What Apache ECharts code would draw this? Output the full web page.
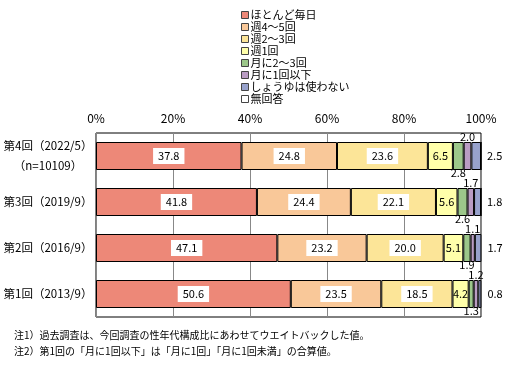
<!DOCTYPE html>
<html><head><meta charset="utf-8">
<script src="https://cdn.jsdelivr.net/npm/echarts@6/dist/echarts.min.js"></script>
<style>html,body{margin:0;padding:0;background:#fff}#c{width:517px;height:380px}</style>
</head><body><div id="c"></div>
<script>
const categories = ['第4回（2022/5）\n（n=10109）', '第3回（2019/9）', '第2回（2016/9）', '第1回（2013/9）'];
const seriesNames = ['ほとんど毎日', '週4～5回', '週2～3回', '週1回', '月に2～3回', '月に1回以下', 'しょうゆは使わない', '無回答'];
const everyday = [37.8, 41.8, 47.1, 50.6];
const w4to5 = [24.8, 24.4, 23.2, 23.5];
const w2to3 = [23.6, 22.1, 20.0, 18.5];
const w1 = [6.5, 5.6, 5.1, 4.2];
const m2to3 = [2.8, 2.6, 1.9, 1.3];
const m1less = [2.0, 1.7, 1.1, 1.2];
const noUse = [2.5, 1.8, 1.7, 0.8];
const noAnswer = [0, 0, 0, 0];
const tickLabels = ['0%', '20%', '40%', '60%', '80%', '100%'];
const notes = ['注1）過去調査は、今回調査の性年代構成比にあわせてウエイトバックした値。', '注2）第1回の「月に1回以下」は「月に1回」「月に1回未満」の合算値。'];

const colors = ['#ED8878', '#F9C899', '#FCE598', '#FFFFAA', '#9CC78A', '#BA9CC3', '#98A2CC', '#FFFFFF'];
const values = [everyday, w4to5, w2to3, w1, m2to3, m1less, noUse, noAnswer];
const FONT = '"Noto Sans CJK JP", sans-serif';
const fmt = p => p.value.toFixed(1);

function labelFor(i) {
  const base = {show: true, formatter: fmt, color: '#000', fontSize: 11, fontFamily: FONT};
  if (i <= 2) return Object.assign(base, {position: 'inside', backgroundColor: '#fff', padding: [3, 5, 2, 5]});
  if (i === 3) return Object.assign(base, {position: 'inside'});
  if (i === 4) return Object.assign(base, {position: 'bottom', distance: 0, offset: [0, -3]});
  if (i === 5) return Object.assign(base, {position: 'top', distance: 1, offset: [0, 1]});
  if (i === 6) return Object.assign(base, {position: 'right', distance: 6});
  return {show: false};
}

const series = seriesNames.map((n, i) => ({
  name: n, type: 'bar', stack: 'all', barWidth: 28,
  data: values[i],
  itemStyle: {color: colors[i], borderColor: '#000', borderWidth: 1},
  label: labelFor(i),
  emphasis: {disabled: true}
}));

const chart = echarts.init(document.getElementById('c'));
chart.setOption({
  animation: false,
  textStyle: {fontFamily: FONT},
  legend: {
    orient: 'vertical', left: 241, top: 9, itemWidth: 7, itemHeight: 7, itemGap: 0,
    icon: 'rect', padding: 0,
    data: seriesNames.map((n, i) => ({name: n, itemStyle: {color: colors[i], borderColor: '#444', borderWidth: 1}})),
    textStyle: {fontSize: 11, lineHeight: 12, color: '#000', fontFamily: FONT, padding: [0, 0, 0, -3]}
  },
  grid: {left: 96, right: 36, top: 133, bottom: 63, show: true, borderColor: '#000', borderWidth: 1,
         backgroundColor: 'transparent', containLabel: false, outerBoundsMode: 'none'},
  xAxis: {
    type: 'value', position: 'top', min: 0, max: 100, interval: 20,
    axisLine: {show: false}, axisTick: {show: false},
    axisLabel: {formatter: v => tickLabels[v / 20], color: '#000', fontSize: 12, margin: 9, fontFamily: FONT},
    splitLine: {show: true, lineStyle: {color: '#888', width: 1}}
  },
  yAxis: {
    type: 'category', inverse: true, data: categories,
    axisLine: {show: false}, axisTick: {show: false},
    axisLabel: {color: '#000', fontSize: 11.5, margin: 48, align: 'center', lineHeight: 20, fontFamily: FONT}
  },
  series: series,
  graphic: notes.map((t, i) => ({
    type: 'text', left: 14, top: 330 + i * 16,
    style: {text: t, fill: '#000', fontSize: 10, fontFamily: FONT}
  }))
});
</script></body></html>
